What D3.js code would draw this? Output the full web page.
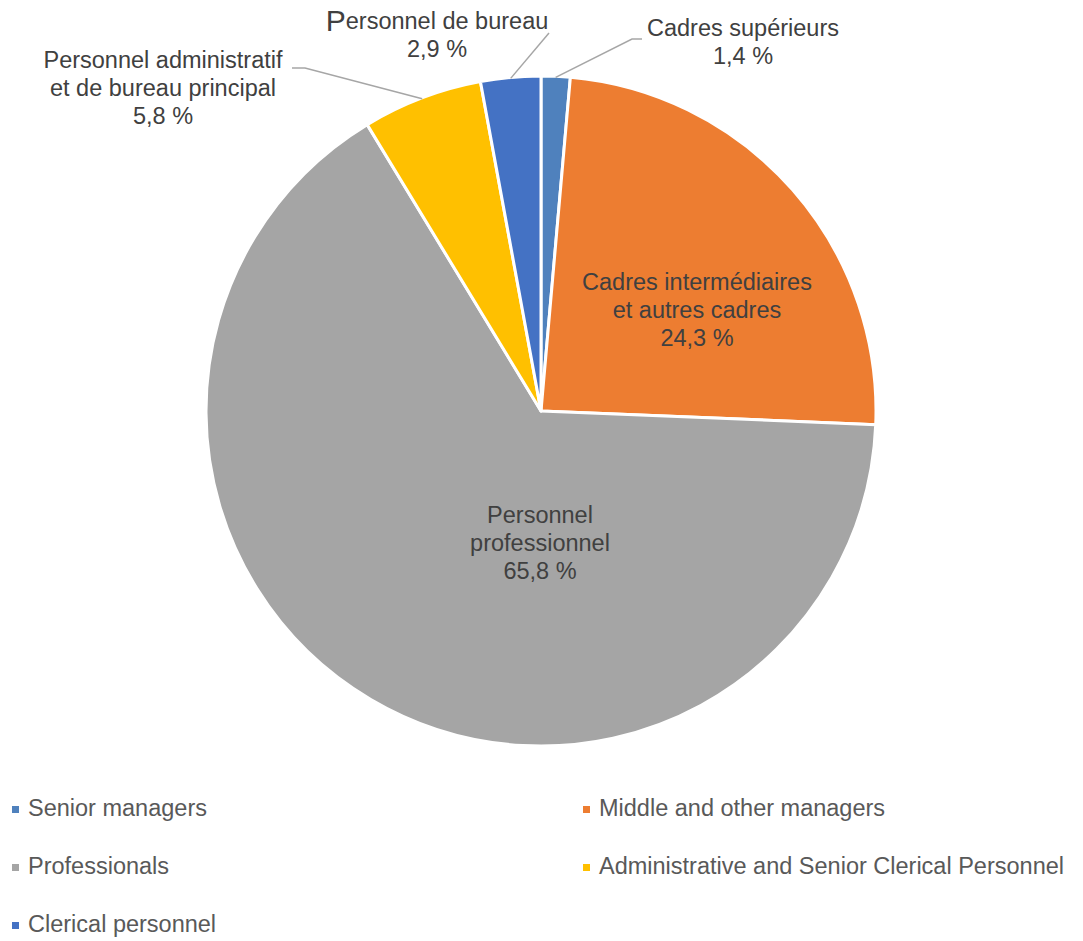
<!DOCTYPE html>
<html>
<head>
<meta charset="utf-8">
<script src="https://cdn.jsdelivr.net/npm/d3@7"></script>
<style>
  body { margin: 0; background: #fff; }
</style>
</head>
<body>
<div id="chart"></div>
<script>
// data
var categories = ["Senior managers", "Middle and other managers", "Professionals",
                  "Administrative and Senior Clerical Personnel", "Clerical personnel"];
var values = [1.4, 24.3, 65.8, 5.8, 2.9];
var labelLines = [
    ["Cadres supérieurs", "1,4 %"],
    ["Cadres intermédiaires", "et autres cadres", "24,3 %"],
    ["Personnel", "professionnel", "65,8 %"],
    ["Personnel administratif", "et de bureau principal", "5,8 %"],
    ["Personnel de bureau", "2,9 %"]
];
var colors = ["#4F81BD", "#ED7D31", "#A5A5A5", "#FFC000", "#4472C4"];

var width = 1083, height = 941;
var cx = 541, cy = 411, radius = 335;
var font = "'Liberation Sans', Arial, sans-serif";

var svg = d3.select("#chart")
    .append("svg")
    .attr("width", width)
    .attr("height", height);

var pie = d3.pie().sort(null).value(d => d);
var arcs = pie(values);
var arc = d3.arc().innerRadius(0).outerRadius(radius);

var g = svg.append("g")
    .attr("transform", "translate(" + cx + "," + cy + ")");

g.selectAll("path")
    .data(arcs)
    .enter()
    .append("path")
    .attr("d", arc)
    .attr("fill", (d, i) => colors[i])
    .attr("stroke", "#fff")
    .attr("stroke-width", 3)
    .attr("stroke-linejoin", "round");

// label placement (outside ones use leader lines)
var labelPos = [
    {x: 743, y: 30, outside: true, elbow: [642, 39]},
    {x: 697, y: 284, outside: false},
    {x: 540, y: 517, outside: false},
    {x: 163, y: 62, outside: true, elbow: [292, 68]},
    {x: 437, y: 23, outside: true, elbow: [549, 33]}
];
var lineH = 28;

var outerArc = d3.arc().innerRadius(radius - 1).outerRadius(radius - 1);

arcs.forEach(function(d, i) {
    var p = labelPos[i];
    if (p.outside) {
        var c = outerArc.centroid(d);
        var start = [cx + c[0], cy + c[1]];
        var pts = [start];
        if (i === 0) pts.push([632, 39]);
        if (i === 3) pts.push([305, 68]);
        pts.push(p.elbow);
        svg.append("path")
            .attr("d", d3.line()(pts))
            .attr("fill", "none")
            .attr("stroke", "#A6A6A6")
            .attr("stroke-width", 1.5);
    }
    var t = svg.append("text")
        .attr("font-family", font)
        .attr("font-size", 23.5)
        .attr("fill", "#404040")
        .attr("text-anchor", "middle")
        .attr("dominant-baseline", "middle");
    labelLines[i].forEach(function(line, j) {
        var ts = t.append("tspan")
            .attr("x", p.x)
            .attr("y", p.y + j * lineH);
        if (i === 4 && j === 0) {
            ts.append("tspan").attr("font-size", 30).text(line.charAt(0));
            ts.append("tspan").text(line.slice(1));
        } else {
            ts.text(line);
        }
    });
});

// legend
var legendX = [8, 579], legendY = [810, 868, 926];
var legend = svg.selectAll(".legend")
    .data(categories)
    .enter()
    .append("g")
    .attr("class", "legend")
    .attr("transform", (d, i) => "translate(" + legendX[i % 2] + "," + legendY[Math.floor(i / 2)] + ")");

legend.append("rect")
    .attr("x", 4)
    .attr("y", -4)
    .attr("width", 7)
    .attr("height", 7)
    .attr("fill", (d, i) => colors[i]);

legend.append("text")
    .attr("x", 20)
    .attr("y", 0)
    .attr("font-family", font)
    .attr("font-size", 23.5)
    .attr("fill", "#595959")
    .attr("dominant-baseline", "middle")
    .text(d => d);
</script>
</body>
</html>
